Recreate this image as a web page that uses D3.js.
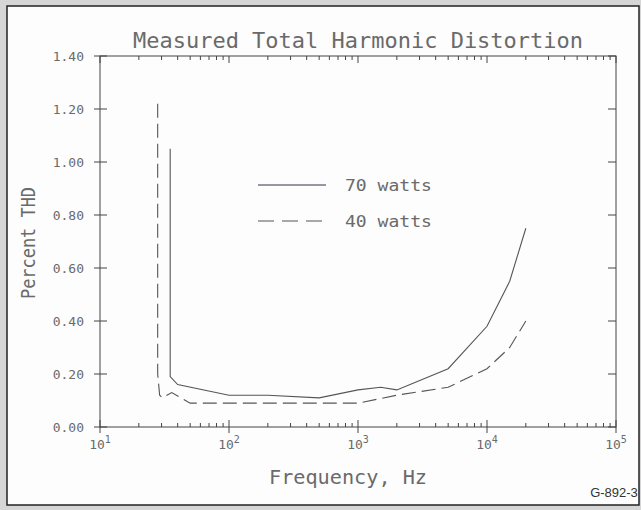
<!DOCTYPE html>
<html>
<head>
<meta charset="utf-8">
<script src="https://cdn.jsdelivr.net/npm/d3@7"></script>
<style>
  html, body { margin: 0; padding: 0; background: #d6d6d6; }
  svg { display: block; }
  .plot-text { font-family: "DejaVu Sans Mono", monospace; fill: #6a6a6a; }
</style>
</head>
<body>
<div id="chart"></div>
<script>
// values
const freq70 = [35, 35, 40, 100, 200, 500, 1000, 1500, 2000, 5000, 10000, 15000, 20000];
const thd70  = [1.05, 0.19, 0.16, 0.12, 0.12, 0.11, 0.14, 0.15, 0.14, 0.22, 0.38, 0.55, 0.75];
const freq40 = [28, 28, 29, 30.5, 36, 50, 100, 500, 1000, 2000, 5000, 10000, 15000, 20000];
const thd40  = [1.22, 0.20, 0.12, 0.11, 0.13, 0.09, 0.09, 0.09, 0.09, 0.12, 0.15, 0.22, 0.30, 0.40];
const yTicks = [0, 0.2, 0.4, 0.6, 0.8, 1.0, 1.2, 1.4];
const xDecades = [10, 100, 1000, 10000, 100000];
const seriesNames = ["70 watts", "40 watts"];

const W = 641, H = 510;
const svg = d3.select("#chart").append("svg").attr("width", W).attr("height", H);

// page frame
svg.append("rect").attr("x", 7).attr("y", 6).attr("width", 632).attr("height", 499)
    .attr("fill", "#fdfdfd").attr("stroke", "#222").attr("stroke-width", 1.5);

const x = d3.scaleLog().domain([10, 1e5]).range([100, 616]);
const y = d3.scaleLinear().domain([0, 1.4]).range([427, 56]);
const axisColor = "#444";

const g = svg.append("g");

// plot box
g.append("rect").attr("x", x(10)).attr("y", y(1.4))
    .attr("width", x(1e5) - x(10)).attr("height", y(0) - y(1.4))
    .attr("fill", "none").attr("stroke", axisColor).attr("stroke-width", 1);

// minor x ticks (bottom pointing up, top pointing down)
const minor = x.ticks().filter(d => !xDecades.includes(d));
g.selectAll(".minor-b").data(minor).enter().append("line")
    .attr("x1", d => x(d)).attr("x2", d => x(d))
    .attr("y1", y(0)).attr("y2", y(0) - 4)
    .attr("stroke", axisColor);
g.selectAll(".minor-t").data(minor).enter().append("line")
    .attr("x1", d => x(d)).attr("x2", d => x(d))
    .attr("y1", y(1.4)).attr("y2", y(1.4) + 4)
    .attr("stroke", axisColor);

// major x ticks
g.selectAll(".major-b").data(xDecades).enter().append("line")
    .attr("x1", d => x(d)).attr("x2", d => x(d))
    .attr("y1", y(0) + 6).attr("y2", y(0) - 7)
    .attr("stroke", axisColor);
g.selectAll(".major-t").data(xDecades).enter().append("line")
    .attr("x1", d => x(d)).attr("x2", d => x(d))
    .attr("y1", y(1.4)).attr("y2", y(1.4) + 7)
    .attr("stroke", axisColor);

// y ticks, left crossing the axis, right pointing inward
g.selectAll(".ytick-l").data(yTicks).enter().append("line")
    .attr("x1", x(10) - 6).attr("x2", x(10) + 7)
    .attr("y1", d => y(d)).attr("y2", d => y(d))
    .attr("stroke", axisColor);
g.selectAll(".ytick-r").data(yTicks).enter().append("line")
    .attr("x1", x(1e5) - 8).attr("x2", x(1e5))
    .attr("y1", d => y(d)).attr("y2", d => y(d))
    .attr("stroke", axisColor);

// y tick labels
g.selectAll(".ylab").data(yTicks).enter().append("text")
    .attr("class", "plot-text")
    .attr("x", 84).attr("y", d => y(d) + 5)
    .attr("text-anchor", "end")
    .style("font-size", "13px")
    .text(d => d3.format(".2f")(d));

// x tick labels as 10 with superscript exponent
const xl = g.selectAll(".xlab").data(xDecades).enter().append("text")
    .attr("class", "plot-text")
    .attr("x", d => x(d)).attr("y", 449)
    .attr("text-anchor", "middle")
    .style("font-size", "13px");
xl.append("tspan").text("10");
xl.append("tspan").attr("dy", -6).style("font-size", "10px")
    .text(d => Math.round(Math.log10(d)));

// title and axis titles
svg.append("text").attr("class", "plot-text")
    .attr("x", 358).attr("y", 48).attr("text-anchor", "middle")
    .attr("textLength", 450).attr("lengthAdjust", "spacingAndGlyphs")
    .style("font-size", "22px")
    .text("Measured Total Harmonic Distortion");

svg.append("text").attr("class", "plot-text")
    .attr("transform", "translate(35,243) rotate(-90)")
    .attr("text-anchor", "middle")
    .attr("textLength", 112).attr("lengthAdjust", "spacingAndGlyphs")
    .style("font-size", "20px")
    .text("Percent THD");

svg.append("text").attr("class", "plot-text")
    .attr("x", 348).attr("y", 484).attr("text-anchor", "middle")
    .attr("textLength", 158).attr("lengthAdjust", "spacingAndGlyphs")
    .style("font-size", "20px")
    .text("Frequency, Hz");

svg.append("text")
    .attr("x", 614).attr("y", 497).attr("text-anchor", "middle")
    .attr("fill", "#333")
    .style("font-family", "'Liberation Sans', Arial, sans-serif")
    .style("font-size", "13px")
    .text("G-892-3");

// curves
const line = d3.line().x(d => x(d[0])).y(d => y(d[1]));
const lineColor = "#555";
const dash40 = "14,6";

g.append("path").datum(d3.zip(freq70, thd70))
    .attr("d", line).attr("fill", "none")
    .attr("stroke", lineColor).attr("stroke-width", 1.1);

g.append("path").datum(d3.zip(freq40, thd40))
    .attr("d", line).attr("fill", "none")
    .attr("stroke", lineColor).attr("stroke-width", 1.1)
    .attr("stroke-dasharray", dash40);

// legend
const legend = svg.append("g");
const legendRows = [
    { name: seriesNames[0], y: 185, dash: null },
    { name: seriesNames[1], y: 221, dash: "16,8" }
];
legendRows.forEach(r => {
    legend.append("line")
        .attr("x1", 258).attr("x2", 326).attr("y1", r.y).attr("y2", r.y)
        .attr("stroke", r.dash ? lineColor : "#3b3050").attr("stroke-width", 1.1)
        .attr("stroke-dasharray", r.dash);
    legend.append("text").attr("class", "plot-text")
        .attr("x", 345).attr("y", r.y + 6)
        .attr("textLength", 87).attr("lengthAdjust", "spacingAndGlyphs")
        .style("font-size", "15px")
        .text(r.name);
});
</script>
</body>
</html>
